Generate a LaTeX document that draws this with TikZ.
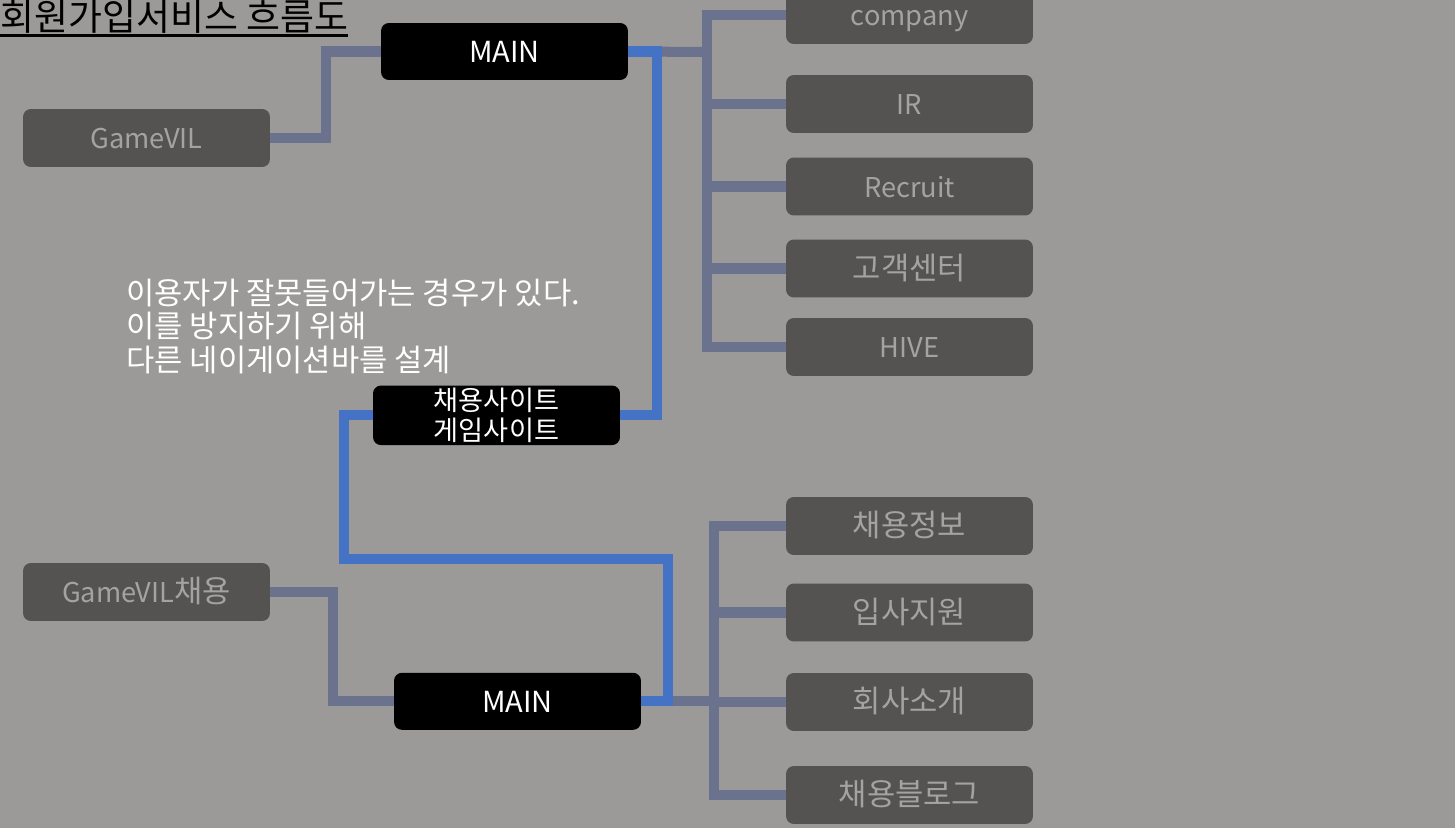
\documentclass[tikz,border=0pt]{standalone}
\usepackage{fontspec}
\setmainfont{Noto Sans CJK KR}
\usetikzlibrary{positioning}
\definecolor{bg}{RGB}{155,154,152}
\definecolor{boxgray}{RGB}{85,83,81}
\definecolor{boxtext}{RGB}{165,163,160}
\definecolor{slate}{RGB}{106,114,142}
\definecolor{linkblue}{RGB}{68,114,196}
\newcommand\kor{\fontsize{17.5pt}{20pt}\selectfont}
\tikzstyle{link} = [line width=5.7pt,slate]
\tikzstyle{bluelink} = [line width=5.7pt,linkblue]
\tikzstyle{boxbase} = [rectangle,rounded corners=4.5pt,minimum width=4.94cm,inner sep=0]
\tikzstyle{menubox} = [boxbase,fill=boxgray,text=boxtext,minimum height=1.16cm,text height=15.5pt,text depth=3pt,font=\fontsize{15.5pt}{18pt}\selectfont]
\tikzstyle{mainbox} = [menubox,fill=black,text=white,minimum height=1.14cm,font=\fontsize{16.5pt}{19pt}\selectfont]

\begin{document}
\begin{tikzpicture}[x=0.02cm,y=-0.02cm]
	\fill[bg] (0,0) rectangle (1455,828);
	\useasboundingbox (0,0) rectangle (1455,828);
	\def \col {909.5}
	% title
	\node (title) at (0,31) [anchor=base west,inner sep=0,font=\fontsize{21pt}{24pt}\selectfont] {회원가입서비스 흐름도};
	\draw [line width=1.7pt] ([yshift=-2.5pt]title.base west) -- ([yshift=-2.5pt]title.base east);
	% main site
	\node (main1) at (504.5,51.5) [mainbox] {MAIN};
	\node (gamevil) at (146.5,138) [menubox] {GameVIL};
	\foreach \name/\y/\label in {company/15/company,ir/104/IR,recruit/186.5/Recruit,cs/268.5/{\kor 고객센터},hive/347/HIVE} {
		\node (\name) at (\col,\y) [menubox] {\label};
	}
	\node (site) at (496.5,415.3) [boxbase,fill=black,text=white,minimum height=1.19cm,align=center,font=\fontsize{15.5pt}{16.6pt}\selectfont] {채용사이트\\게임사이트};
	% recruit site
	\node (gamevil2) at (146.5,592) [menubox] {GameVIL{\kor 채용}};
	\node (main2) at (517.5,701.3) [mainbox] {MAIN};
	\foreach \name/\y/\label in {jobinfo/526/채용정보,apply/612.5/입사지원,about/702/회사소개,blog/795/채용블로그} {
		\node (\name) at (\col,\y) [menubox] {\kor\label};
	}
	\node (note) at (126,279) [anchor=north west,inner sep=0,align=left,text=white,font=\fontsize{17.5pt}{18.9pt}\selectfont] {이용자가 잘못들어가는 경우가 있다.\\이를 방지하기 위해\\다른 네이게이션바를 설계};
	% links
	\coordinate (trunk1) at (707,52);
	\coordinate (trunk2) at (713.6,701.3);
	\draw [link] (gamevil.east) -- ++(56,0) |- (main1.west);
	\draw [link] (main1.east) -- (trunk1);
	\draw [link] (company.west) -| (trunk1 |- hive.west) -- (hive.west);
	\foreach \n in {ir,recruit,cs} {
		\draw [link] (trunk1 |- \n.west) -- (\n.west);
	}
	\draw [link] (gamevil2.east) -- ++(63,0) |- (main2.west);
	\draw [link] (main2.east) -- (trunk2);
	\draw [link] (jobinfo.west) -| (trunk2 |- blog.west) -- (blog.west);
	\foreach \n in {apply,about} {
		\draw [link] (trunk2 |- \n.west) -- (\n.west);
	}
	\draw [bluelink] (main1.east) -- ++(29,0) |- (site.east);
	\draw [bluelink] (site.west) -- ++(-28.5,0) |- ++(324.3,143.4) |- (main2.east);
\end{tikzpicture}
\end{document}
